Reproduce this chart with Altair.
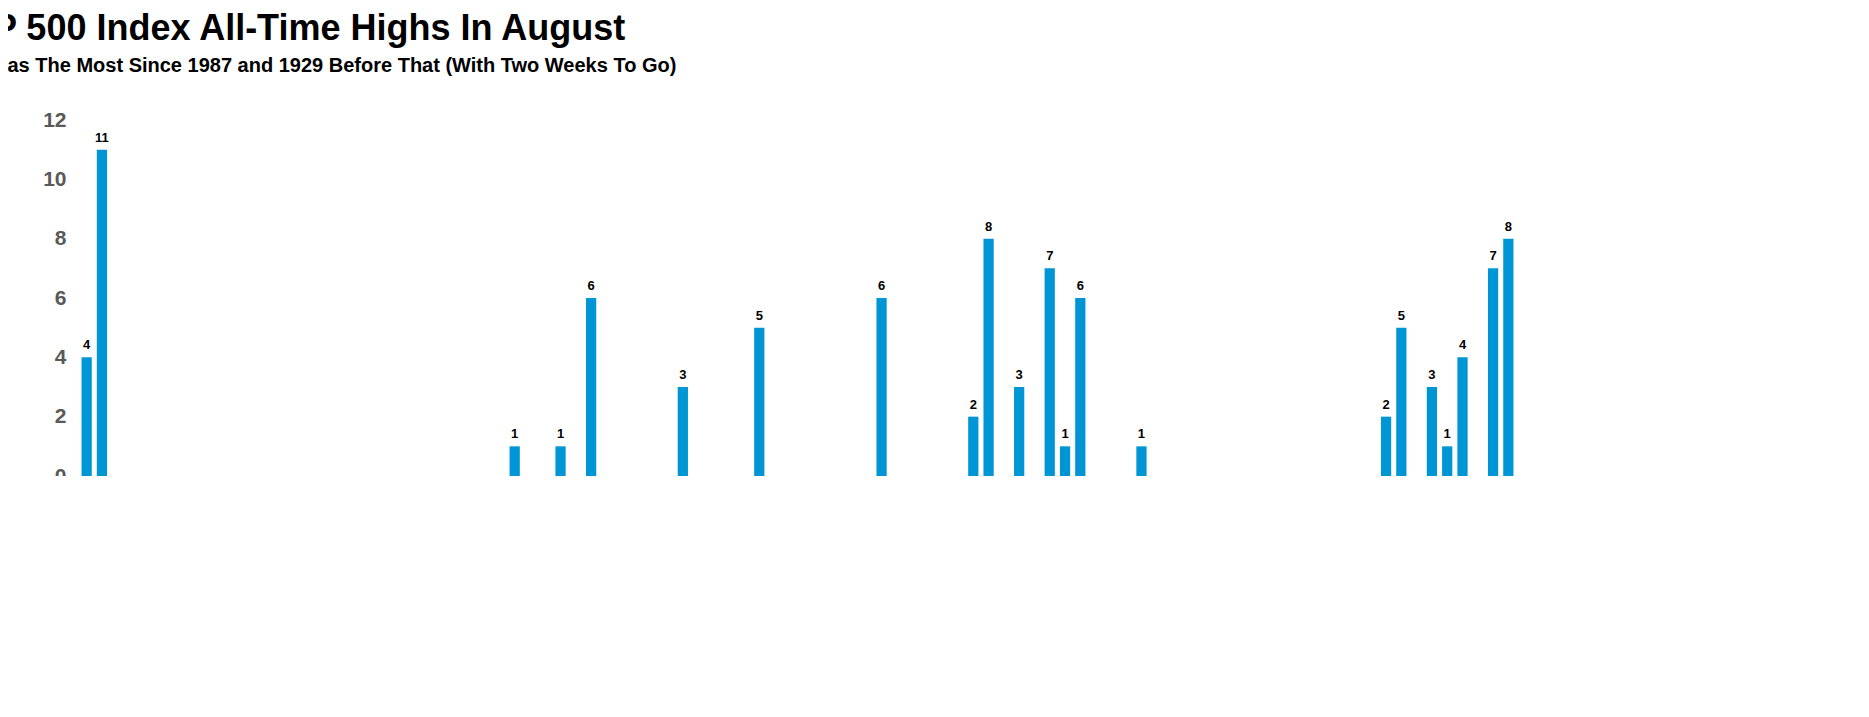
import altair as alt
import pandas as pd

years = list(range(1928, 2022))
high_years = [1928, 1929, 1956, 1959, 1961, 1967, 1972, 1980, 1986, 1987, 1989,
              1991, 1992, 1993, 1997, 2013, 2014, 2016, 2017, 2018, 2020, 2021]
high_counts = [4, 11, 1, 1, 6, 3, 5, 6, 2, 8, 3, 7, 1, 6, 1, 2, 5, 3, 1, 4, 7, 8]
tick_years = [str(y) for y in range(1928, 2022, 7)]

counts = dict(zip(high_years, high_counts))
df = pd.DataFrame({
    "year": [str(y) for y in years],
    "n": [counts.get(y, 0) for y in years],
})
df["label"] = df["n"].map(lambda v: str(v) if v else "")

font = "Liberation Sans"
gray = "#595959"

x = alt.X("year:O", sort=[str(y) for y in years],
          scale=alt.Scale(paddingInner=0.33, paddingOuter=0.1),
          axis=alt.Axis(title=None, labelAngle=0, ticks=False, domainColor="#bfbfbf",
                        labelColor=gray, labelFont=font, labelFontSize=21,
                        labelFontWeight="bold", labelPadding=8,
                        labelExpr="indexof(" + str(tick_years) + ", datum.label) >= 0 ? datum.label : ''"))
y = alt.Y("n:Q", scale=alt.Scale(domain=[0, 12]),
          axis=alt.Axis(title=None, values=list(range(0, 13, 2)), grid=False, domain=False,
                        ticks=False, labelColor=gray, labelFont=font, labelFontSize=21,
                        labelFontWeight="bold", labelPadding=14))

base = alt.Chart(df)
bars = base.mark_bar(color="#0096d6").encode(x=x, y=y)
labels = base.mark_text(dy=-12, font=font, fontSize=13, fontWeight="bold", color="black").encode(
    x=x, y=y, text="label:N")

notes = pd.DataFrame({
    "t": ["Source: LPL Research, FactSet 08/16/2021 (1928 - Current)",
          "All indexes are unmanaged and cannot be invested in directly. Past performance is no guarantee of future results.",
          "The modern design of the S&P 500 Index was first launched in 1957. Performance before then incorporates the performance of its predecessor index, the S&P 90."],
    "py": [428, 445, 462],
})
footer = alt.Chart(notes).mark_text(align="left", font=font, fontSize=13, color="black").encode(
    x=alt.value(-65), y=alt.Y("py:Q", scale=None), text="t:N")

chart = (bars + labels + footer).properties(
    width=1435, height=356,
    autosize=alt.AutoSizeParams(type="none"),
    padding={"left": 72, "top": 112, "right": 0, "bottom": 0},
    title=alt.TitleParams(
        "S&P 500 Index All-Time Highs In August",
        subtitle="2021 Has The Most Since 1987 and 1929 Before That (With Two Weeks To Go)",
        anchor="start", dx=-72, font=font, fontSize=36, fontWeight="bold",
        color="black", subtitleFont=font, subtitleFontSize=20, subtitleFontWeight="bold",
        subtitleColor="black", subtitlePadding=8, offset=32),
).configure_view(stroke=None)

chart.save("out.html", embed_options={"renderer": "svg", "actions": False})
